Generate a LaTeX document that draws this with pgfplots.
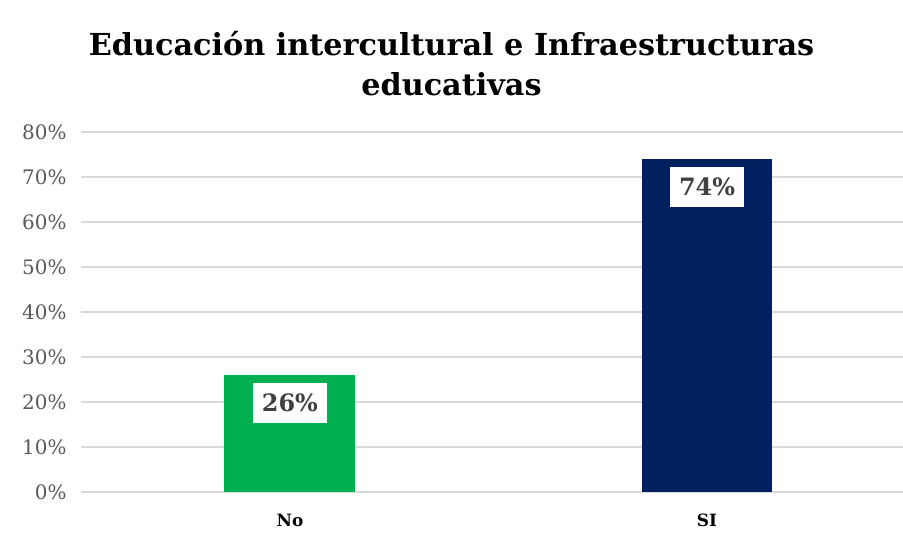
\documentclass[border=0pt]{standalone}
\usepackage{pgfplots}
\pgfplotsset{compat=1.18}
\usepackage{fontspec}
\setmainfont{DejaVu Serif}
\definecolor{grn}{HTML}{00B050}
\definecolor{navy}{HTML}{002060}
\definecolor{tickgray}{HTML}{595959}
\definecolor{gridgray}{HTML}{D9D9D9}
\definecolor{lblgray}{HTML}{404040}
\begin{document}
\begin{tikzpicture}[x=1bp,y=1bp]
\useasboundingbox (0,0) rectangle (903,534);
\begin{axis}[
  at={(81bp,42bp)}, anchor=south west,
  scale only axis, width=822bp, height=360bp,
  xmin=-0.501, xmax=1.47, ymin=0, ymax=80,
  ybar, bar width=0.314,
  xtick={0,1}, xticklabels={No,SI},
  ytick={0,10,...,80},
  yticklabel={\pgfmathprintnumber{\tick}\%},
  /pgf/number format/assume math mode=true,
  ymajorgrids, grid style={gridgray, line width=1.2bp},
  axis line style={draw=none},
  major tick style={draw=none},
  yticklabel style={font=\fontsize{20}{23}\selectfont, text=tickgray, xshift=-11bp},
  xticklabel style={font=\fontsize{17}{20}\selectfont\bfseries, text=black, yshift=-14bp},
  nodes near coords={\pgfmathprintnumber{\pgfplotspointmeta}\%},
  every node near coord/.append style={anchor=north, yshift=-8bp, fill=white,
     minimum width=74bp, minimum height=40bp, inner sep=0pt,
     font=\fontsize{24}{28}\selectfont\bfseries, text=lblgray},
  clip=false,
]
\addplot[fill=grn, draw=none, bar shift=0pt] coordinates {(0,26)};
\addplot[fill=navy, draw=none, bar shift=0pt] coordinates {(1,74)};
\end{axis}
\node[align=center, font=\fontsize{30.4}{40}\selectfont\bfseries, text=black] at (451.5,470)
  {Educación intercultural e Infraestructuras\\educativas};
\end{tikzpicture}
\end{document}
